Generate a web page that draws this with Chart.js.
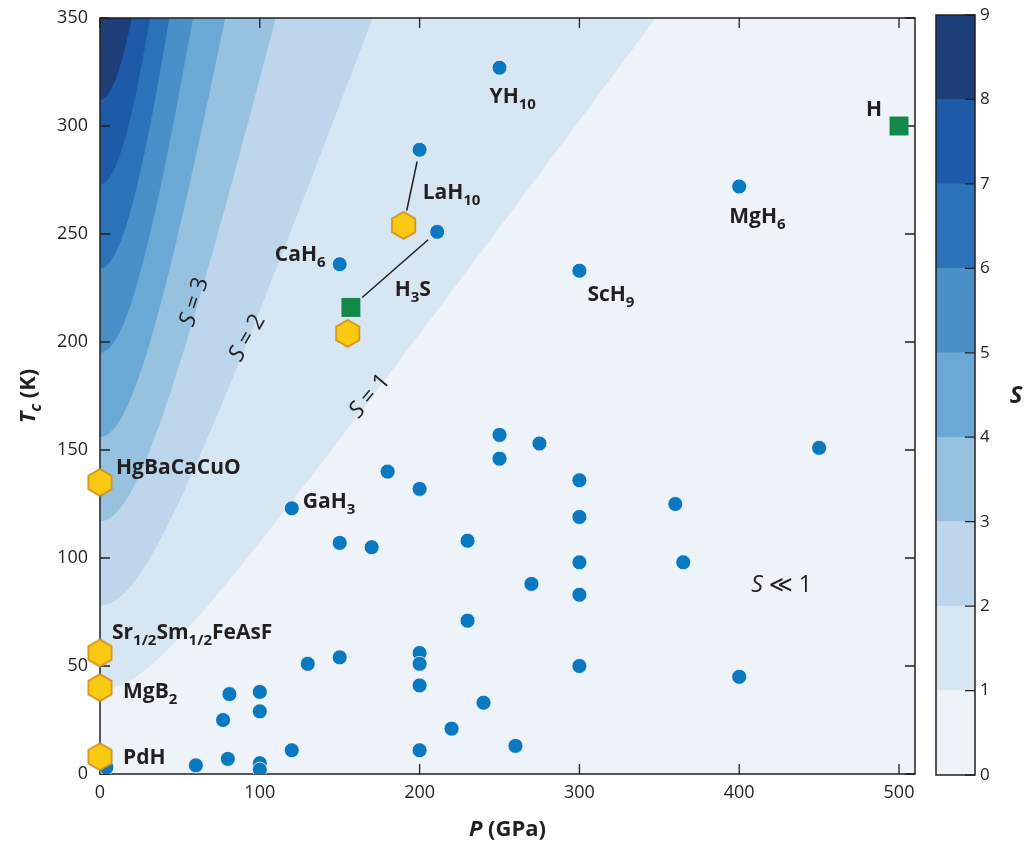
<!DOCTYPE html>
<html>
<head>
<meta charset="utf-8">
<script src="https://cdn.jsdelivr.net/npm/chart.js@4.4.1/dist/chart.umd.min.js"></script>
<style>
html,body{margin:0;padding:0;background:#fff;}
#wrap{position:relative;width:1035px;height:846px;overflow:hidden;}
#main{position:absolute;left:0;top:0;}
#bar{position:absolute;left:925px;top:0;}
</style>
</head>
<body>
<div id="wrap">
<canvas id="main" width="1035" height="846"></canvas>
<canvas id="bar" width="110" height="846"></canvas>
</div>
<script>
// ---------- data ----------
// Figure of merit S = Tc / sqrt(T_MgB2^2 + P^2), with T_MgB2 = 39 K
const T_MGB2 = 39;
const S_LEVELS = [0, 1, 2, 3, 4, 5, 6, 7, 8];
const S_COLORS = ['#edf3f9', '#d7e6f3', '#bdd6ec', '#97c2df', '#6aa8d5', '#4990c8', '#2b73b8', '#1d5aa7', '#1d3e78'];
const S_TICKS = [0, 1, 2, 3, 4, 5, 6, 7, 8, 9];

const P_TICKS = [0, 100, 200, 300, 400, 500];
const TC_TICKS = [0, 50, 100, 150, 200, 250, 300, 350];

// predicted hydrides (blue dots)
const PRED_P  = [250, 200, 211, 150, 400, 300, 450, 250, 275, 250, 180, 200, 300, 300, 360, 120, 150, 170, 230, 300, 365, 270, 300, 230, 200, 200, 150, 130, 300, 400, 200, 240, 81, 100, 100, 77, 220, 260, 120, 200, 80, 60, 100, 100, 4];
const PRED_TC = [327, 289, 251, 236, 272, 233, 151, 157, 153, 146, 140, 132, 136, 119, 125, 123, 107, 105, 108, 98, 98, 88, 83, 71, 56, 51, 54, 51, 50, 45, 41, 33, 37, 38, 29, 25, 21, 13, 11, 11, 7, 4, 5, 2, 3];

// experimental superconductors (yellow hexagons)
const EXP_P  = [190, 155, 0, 0, 0, 0];
const EXP_TC = [254, 204, 135, 56, 40, 8];

// green squares
const SQ_P  = [157, 500, 0];
const SQ_TC = [216, 300, 4];

// connectors: [fromP, fromTc, toP, toTc]
const LINKS = [[200, 289, 190, 254], [211, 251, 157, 216]];

// ---------- styling ----------
const FONT = '"Open Sans", "DejaVu Sans", sans-serif';
const INK = '#231f20';
const P_MAX = 510;

// annotations: segments [text, flags] where flags: i = italic, s = subscript
const LABELS = [
  {seg: [['YH'], ['10', 's']], p: 243.8, tc: 310.6},
  {seg: [['LaH'], ['10', 's']], p: 201.9, tc: 266.2},
  {seg: [['CaH'], ['6', 's']], p: 109.4, tc: 237.5},
  {seg: [['H'], ['3', 's'], ['S']], p: 184.4, tc: 221.3},
  {seg: [['MgH'], ['6', 's']], p: 393.8, tc: 255.1},
  {seg: [['H']], p: 479.4, tc: 304.6},
  {seg: [['ScH'], ['9', 's']], p: 305, tc: 219},
  {seg: [['GaH'], ['3', 's']], p: 126.9, tc: 123.1},
  {seg: [['HgBaCaCuO']], p: 10, tc: 138.9},
  {seg: [['Sr'], ['1/2', 's'], ['Sm'], ['1/2', 's'], ['FeAsF']], p: 7.5, tc: 62.5},
  {seg: [['MgB'], ['2', 's']], p: 14.4, tc: 35.2},
  {seg: [['PdH']], p: 14.4, tc: 4.6},
  {seg: [['S', 'i'], [' \u226A 1']], p: 407.5, tc: 84.3, weight: '400', size: 23},
  {seg: [['S', 'i'], [' = 1']], p: 168, tc: 175.5, weight: '400', size: 23, rot: -50, align: 'center', base: 'middle'},
  {seg: [['S', 'i'], [' = 2']], p: 91.3, tc: 202.3, weight: '400', size: 23, rot: -60, align: 'center', base: 'middle'},
  {seg: [['S', 'i'], [' = 3']], p: 58.1, tc: 218.8, weight: '400', size: 23, rot: -72, align: 'center', base: 'middle'}
];

// ---------- helpers ----------
function segFont(flags, size, weight) {
  const sub = flags.indexOf('s') >= 0;
  const it = flags.indexOf('i') >= 0;
  const sz = sub ? Math.round(size * 0.72) : size;
  return (it ? 'italic ' : '') + weight + ' ' + sz + 'px ' + FONT;
}
function drawRich(ctx, seg, x, y, o) {
  const size = o.size || 21, weight = o.weight || '700';
  ctx.save();
  ctx.translate(x, y);
  if (o.rot) ctx.rotate(o.rot * Math.PI / 180);
  ctx.textBaseline = 'alphabetic';
  ctx.fillStyle = o.color || INK;
  let total = 0;
  const widths = seg.map(s => { ctx.font = segFont(s[1] || '', size, weight); const w = ctx.measureText(s[0]).width; total += w; return w; });
  let cx = 0;
  if (o.align === 'center') cx = -total / 2;
  else if (o.align === 'right') cx = -total;
  const dyBase = o.base === 'middle' ? size * 0.36 : 0;
  seg.forEach((s, i) => {
    const f = s[1] || '';
    ctx.font = segFont(f, size, weight);
    const dy = f.indexOf('s') >= 0 ? size * 0.28 : 0;
    ctx.fillText(s[0], cx, dyBase + dy);
    cx += widths[i];
  });
  ctx.restore();
}
function hexCanvas(r, fill, stroke, lw) {
  const pad = lw + 1;
  const w = Math.ceil(2 * r * Math.cos(Math.PI / 6) + 2 * pad);
  const h = Math.ceil(2 * r + 2 * pad);
  const c = document.createElement('canvas');
  c.width = w; c.height = h;
  const g = c.getContext('2d');
  g.beginPath();
  for (let i = 0; i < 6; i++) {
    const a = -Math.PI / 2 + i * Math.PI / 3;
    const x = w / 2 + r * Math.cos(a), y = h / 2 + r * Math.sin(a);
    if (i) g.lineTo(x, y); else g.moveTo(x, y);
  }
  g.closePath();
  g.fillStyle = fill; g.fill();
  g.lineWidth = lw; g.strokeStyle = stroke; g.stroke();
  return c;
}

// contour boundary S = level, sampled along the pressure axis
function contourPoints(level) {
  const pts = [];
  for (let p = 0; p <= P_MAX; p += 2) {
    const tc = level * Math.sqrt(T_MGB2 * T_MGB2 + p * p);
    pts.push({x: p, y: tc});
    if (tc > 420) break;
  }
  return pts;
}

const contourSets = S_LEVELS.map((lv, i) => ({
  type: 'line',
  label: 'S' + lv,
  data: contourPoints(lv),
  borderWidth: 0,
  borderColor: 'rgba(0,0,0,0)',
  backgroundColor: S_COLORS[i],
  pointRadius: 0,
  fill: 'end',
  tension: 0,
  order: 100 - lv,
  frameAfter: lv === S_LEVELS[S_LEVELS.length - 1]
}));

const hexImg = hexCanvas(13.5, '#fac912', '#d28e1d', 1.6);

const pointSets = [
  {
    type: 'scatter', label: 'squares',
    data: SQ_P.map((p, i) => ({x: p, y: SQ_TC[i]})),
    pointStyle: 'rect', pointRadius: 13.4, backgroundColor: '#12894a', borderWidth: 0, order: 3
  },
  {
    type: 'scatter', label: 'predicted',
    data: PRED_P.map((p, i) => ({x: p, y: PRED_TC[i]})),
    pointStyle: 'circle', pointRadius: 7.5, backgroundColor: '#0b78c2', borderColor: 'rgba(255,255,255,0.75)', borderWidth: 1, order: 2
  },
  {
    type: 'scatter', label: 'experimental',
    data: EXP_P.map((p, i) => ({x: p, y: EXP_TC[i]})),
    pointStyle: hexImg, pointRadius: 12, order: 1, clip: false
  }
];

const decor = {
  id: 'decor',
  afterDatasetDraw(chart, args) {
    const ds = chart.data.datasets[args.index];
    if (!ds.frameAfter) return;
    const ctx = chart.ctx, a = chart.chartArea, xs = chart.scales.x, ys = chart.scales.y;
    ctx.save();
    ctx.strokeStyle = INK; ctx.lineWidth = 1.5;
    ctx.strokeRect(a.left, a.top, a.right - a.left, a.bottom - a.top);
    ctx.lineWidth = 1.3;
    ctx.beginPath();
    P_TICKS.forEach(v => {
      const x = xs.getPixelForValue(v);
      ctx.moveTo(x, a.bottom); ctx.lineTo(x, a.bottom - 10);
      ctx.moveTo(x, a.top); ctx.lineTo(x, a.top + 10);
    });
    TC_TICKS.forEach(v => {
      const y = ys.getPixelForValue(v);
      ctx.moveTo(a.left, y); ctx.lineTo(a.left + 10, y);
      ctx.moveTo(a.right, y); ctx.lineTo(a.right - 10, y);
    });
    ctx.stroke();
    ctx.lineWidth = 1.5;
    LINKS.forEach(l => {
      const x1 = xs.getPixelForValue(l[0]), y1 = ys.getPixelForValue(l[1]);
      const x2 = xs.getPixelForValue(l[2]), y2 = ys.getPixelForValue(l[3]);
      const d = Math.hypot(x2 - x1, y2 - y1), ux = (x2 - x1) / d, uy = (y2 - y1) / d;
      ctx.beginPath();
      ctx.moveTo(x1 + ux * 12, y1 + uy * 12);
      ctx.lineTo(x2 - ux * 15, y2 - uy * 15);
      ctx.stroke();
    });
    ctx.restore();
  },
  afterDatasetsDraw(chart) {
    const ctx = chart.ctx, xs = chart.scales.x, ys = chart.scales.y, a = chart.chartArea;
    LABELS.forEach(L => {
      drawRich(ctx, L.seg, xs.getPixelForValue(L.p), ys.getPixelForValue(L.tc), L);
    });
    drawRich(ctx, [['P', 'i'], [' (GPa)']], (a.left + a.right) / 2, 836, {size: 22, weight: '700', align: 'center'});
    drawRich(ctx, [['T', 'i'], ['c', 'is'], [' (K)']], 35, (a.top + a.bottom) / 2, {size: 22, weight: '700', align: 'center', rot: -90});
  }
};

new Chart(document.getElementById('main'), {
  type: 'scatter',
  data: {datasets: contourSets.concat(pointSets)},
  options: {
    responsive: false,
    animation: false,
    events: [],
    layout: {padding: {left: 0, right: 120, top: 18, bottom: 0}},
    plugins: {legend: {display: false}, tooltip: {enabled: false}, filler: {propagate: false}},
    scales: {
      x: {
        type: 'linear', min: 0, max: P_MAX,
        grid: {display: false, drawTicks: false}, border: {display: false},
        ticks: {font: {family: FONT, size: 18}, color: INK, padding: 8},
        afterBuildTicks: s => { s.ticks = P_TICKS.map(v => ({value: v})); },
        afterFit: s => { s.height = 72; s.paddingLeft = 0; s.paddingRight = 0; }
      },
      y: {
        type: 'linear', min: 0, max: 350,
        grid: {display: false, drawTicks: false}, border: {display: false},
        ticks: {font: {family: FONT, size: 18}, color: INK, padding: 12},
        afterBuildTicks: s => { s.ticks = TC_TICKS.map(v => ({value: v})); },
        afterFit: s => { s.width = 100; s.paddingTop = 0; s.paddingBottom = 0; }
      }
    }
  },
  plugins: [decor]
});

// ---------- colour bar ----------
const barDecor = {
  id: 'barDecor',
  afterDatasetsDraw(chart) {
    const ctx = chart.ctx, a = chart.chartArea, ys = chart.scales.y;
    ctx.save();
    ctx.strokeStyle = INK; ctx.lineWidth = 1.5;
    ctx.strokeRect(a.left, a.top, a.right - a.left, a.bottom - a.top);
    ctx.lineWidth = 1.3;
    ctx.beginPath();
    S_TICKS.forEach(v => {
      const y = ys.getPixelForValue(v);
      ctx.moveTo(a.right, y); ctx.lineTo(a.right - 10, y);
    });
    ctx.stroke();
    ctx.restore();
    drawRich(ctx, [['S', 'i']], 91, 403, {size: 24, weight: '700', align: 'center'});
  }
};

new Chart(document.getElementById('bar'), {
  type: 'bar',
  data: {
    labels: ['S'],
    datasets: S_COLORS.map((c, i) => ({
      data: [[S_TICKS[i], S_TICKS[i + 1]]],
      backgroundColor: c, borderWidth: 0, barPercentage: 1, categoryPercentage: 1
    }))
  },
  options: {
    responsive: false,
    animation: false,
    events: [],
    layout: {padding: {left: 11, right: 0, top: 15, bottom: 71}},
    plugins: {legend: {display: false}, tooltip: {enabled: false}},
    scales: {
      x: {display: false, stacked: true},
      y: {
        position: 'right', min: 0, max: 9,
        grid: {display: false, drawTicks: false}, border: {display: false},
        ticks: {font: {family: FONT, size: 17}, color: INK, padding: 5},
        afterBuildTicks: s => { s.ticks = S_TICKS.map(v => ({value: v})); },
        afterFit: s => { s.width = 60; s.paddingTop = 0; s.paddingBottom = 0; }
      }
    }
  },
  plugins: [barDecor]
});
</script>
</body>
</html>
